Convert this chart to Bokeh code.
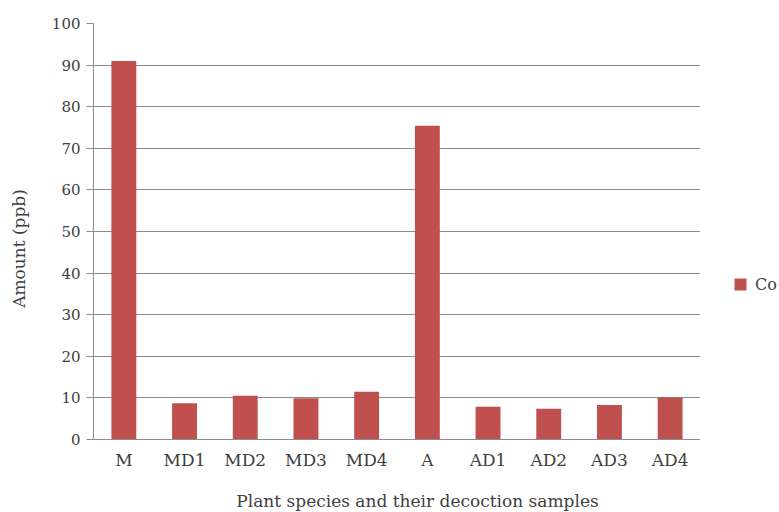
import math
from bokeh.plotting import figure
from bokeh.models import ColumnDataSource, Legend, LegendItem, FactorRange, Label
from bokeh.layouts import row, column
from bokeh.embed import file_html
from bokeh.resources import INLINE

categories = ["M", "MD1", "MD2", "MD3", "MD4", "A", "AD1", "AD2", "AD3", "AD4"]
co_values = [91.0, 8.7, 10.5, 9.9, 11.5, 75.4, 7.9, 7.4, 8.3, 10.1]
y_ticks = [0, 10, 20, 30, 40, 50, 60, 70, 80, 90, 100]
series_name = "Co"
x_title = "Plant species and their decoction samples"
y_title = "Amount (ppb)"

BAR = "#c0504d"
GRID = "#8c8c8c"
TXT = "#404040"
FONT = "DejaVu Serif"
H = 474          # height of the chart row
HB = 38          # height of the x-title strip
W0 = 40          # width of the y-title strip
W2 = 79          # width of the legend strip


def blank(width, height, **kw):
    f = figure(width=width, height=height, output_backend="svg", toolbar_location=None,
               min_border=0, x_axis_location=None, y_axis_location=None, **kw)
    f.grid.visible = False
    f.outline_line_color = None
    f.border_fill_color = "white"
    return f


src = ColumnDataSource(dict(cat=categories, val=co_values))

p = figure(x_range=FactorRange(*categories, range_padding=0), y_range=(0, 100),
           width=700 - W0, height=H, output_backend="svg", toolbar_location=None,
           min_border_left=93 - W0, min_border_right=0, min_border_top=23,
           min_border_bottom=H - 439)
p.outline_line_color = None
p.background_fill_color = "white"
p.border_fill_color = "white"

r = p.vbar(x="cat", top="val", width=0.41, source=src, fill_color=BAR, line_color=None)

p.xgrid.grid_line_color = None
p.ygrid.grid_line_color = GRID
p.ygrid.grid_line_width = 1
p.yaxis.ticker = y_ticks

for ax in (p.xaxis[0], p.yaxis[0]):
    ax.axis_line_color = GRID
    ax.major_tick_line_color = GRID
    ax.minor_tick_line_color = None
    ax.major_label_text_font = FONT
    ax.major_label_text_color = TXT
    ax.axis_label_standoff = 0

p.yaxis.major_label_text_font_size = "15px"
p.xaxis.major_label_text_font_size = "17px"
p.yaxis.major_tick_out = 7
p.yaxis.major_tick_in = 0
p.yaxis.major_label_standoff = 6
p.xaxis.major_tick_out = 0
p.xaxis.major_tick_in = 0
p.xaxis.major_label_standoff = 10

# y-axis title strip
p0 = blank(W0, H, x_range=(0, 1), y_range=(0, 1))
p0.add_layout(Label(x=18, y=191, x_units="screen", y_units="screen", text=y_title,
                    angle=math.pi / 2, text_align="center", text_baseline="middle",
                    text_font=FONT, text_font_size="17px", text_color=TXT))

# legend strip (same data, out of the visible range so only the legend key shows)
p2 = blank(W2, H, x_range=FactorRange(*categories), y_range=(-2, -1))
r2 = p2.scatter(x="cat", y="val", marker="square", source=src, size=12,
                fill_color=BAR, line_color=None)
legend = Legend(items=[LegendItem(label=series_name, renderers=[r2])],
                location=(25, 140), border_line_color=None, background_fill_alpha=0,
                glyph_width=30, glyph_height=30, label_standoff=0, padding=0, margin=0,
                label_text_font=FONT, label_text_font_size="16px", label_text_color=TXT)
p2.add_layout(legend, "center")

# x-axis title strip
pb = blank(W0 + (700 - W0) + W2, HB, x_range=(0, 1), y_range=(0, 1))
pb.add_layout(Label(x=417, y=12, x_units="screen", y_units="screen", text=x_title,
                    text_align="center", text_baseline="alphabetic",
                    text_font=FONT, text_font_size="17px", text_color=TXT))

layout = column(row(p0, p, p2, spacing=0), pb, spacing=0)
open("out.html", "w").write(file_html(layout, INLINE))
